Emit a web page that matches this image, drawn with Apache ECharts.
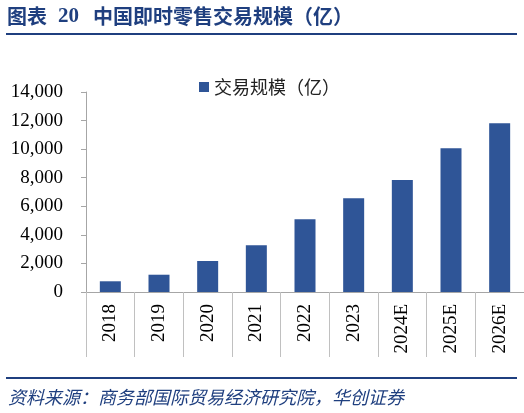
<!DOCTYPE html>
<html>
<head>
<meta charset="utf-8">
<script src="https://cdn.jsdelivr.net/npm/echarts@6/dist/echarts.min.js"></script>
<style>html,body{margin:0;padding:0;background:#fff;}#c{width:524px;height:413px;}</style>
</head>
<body>
<div id="c"></div>
<script>
const categories = ['2018','2019','2020','2021','2022','2023','2024E','2025E','2026E'];
const values = [750, 1210, 2170, 3270, 5090, 6560, 7840, 10060, 11810];
const seriesName = '交易规模（亿）';
const yMin = 0, yMax = 14000, yStep = 2000;

const chart = echarts.init(document.getElementById('c'));
const blue = '#1F3F7F';
chart.setOption({
  animation: false,
  backgroundColor: '#fff',
  legend: {
    left: 194, top: 73,
    itemWidth: 10, itemHeight: 10, itemGap: 8,
    icon: 'rect',
    textStyle: {fontFamily: 'Noto Sans CJK SC', fontSize: 18, color: '#222'},
    data: [seriesName]
  },
  grid: {left: 86, top: 92, width: 446, height: 200, containLabel: false},
  xAxis: {
    type: 'category',
    data: categories,
    boundaryGap: true,
    axisLine: {show: true, lineStyle: {color: '#a6a6a6', width: 1}},
    axisTick: {show: true, interval: 0, length: 65, lineStyle: {color: '#c0c0c0'}},
    axisLabel: {rotate: 90, interval: 0, margin: 12, fontFamily: 'Liberation Serif', fontSize: 19, color: '#000'}
  },
  yAxis: {
    type: 'value',
    min: yMin, max: yMax, interval: yStep,
    axisLine: {show: true, lineStyle: {color: '#a6a6a6', width: 1}},
    axisTick: {show: true, length: 5, lineStyle: {color: '#a6a6a6'}},
    splitLine: {show: false},
    axisLabel: {
      margin: 23, fontFamily: 'Liberation Serif', fontSize: 19, color: '#000',
      formatter: v => v.toLocaleString('en-US')
    }
  },
  series: [{
    name: seriesName,
    type: 'bar',
    data: values,
    barWidth: 21,
    itemStyle: {color: '#2F5597'}
  }],
  graphic: [
    {type: 'text', left: 7, top: 6, style: {text: '图表', font: 'bold 20px "Noto Sans CJK SC"', fill: blue}},
    {type: 'text', left: 58, top: 6, style: {text: '20', font: 'bold 21px "Liberation Serif"', fill: blue}},
    {type: 'text', left: 93, top: 6, style: {text: '中国即时零售交易规模（亿）', font: 'bold 20px "Noto Sans CJK SC"', fill: blue}},
    {type: 'line', shape: {x1: 6, y1: 34, x2: 517, y2: 34}, style: {stroke: blue, lineWidth: 2}},
    {type: 'line', shape: {x1: 6, y1: 378, x2: 517, y2: 378}, style: {stroke: blue, lineWidth: 2}},
    {type: 'text', left: 8, top: 388, style: {text: '资料来源：商务部国际贸易经济研究院，华创证券', font: 'italic 18px "Noto Sans CJK SC"', fill: blue}}
  ]
});
</script>
</body>
</html>
